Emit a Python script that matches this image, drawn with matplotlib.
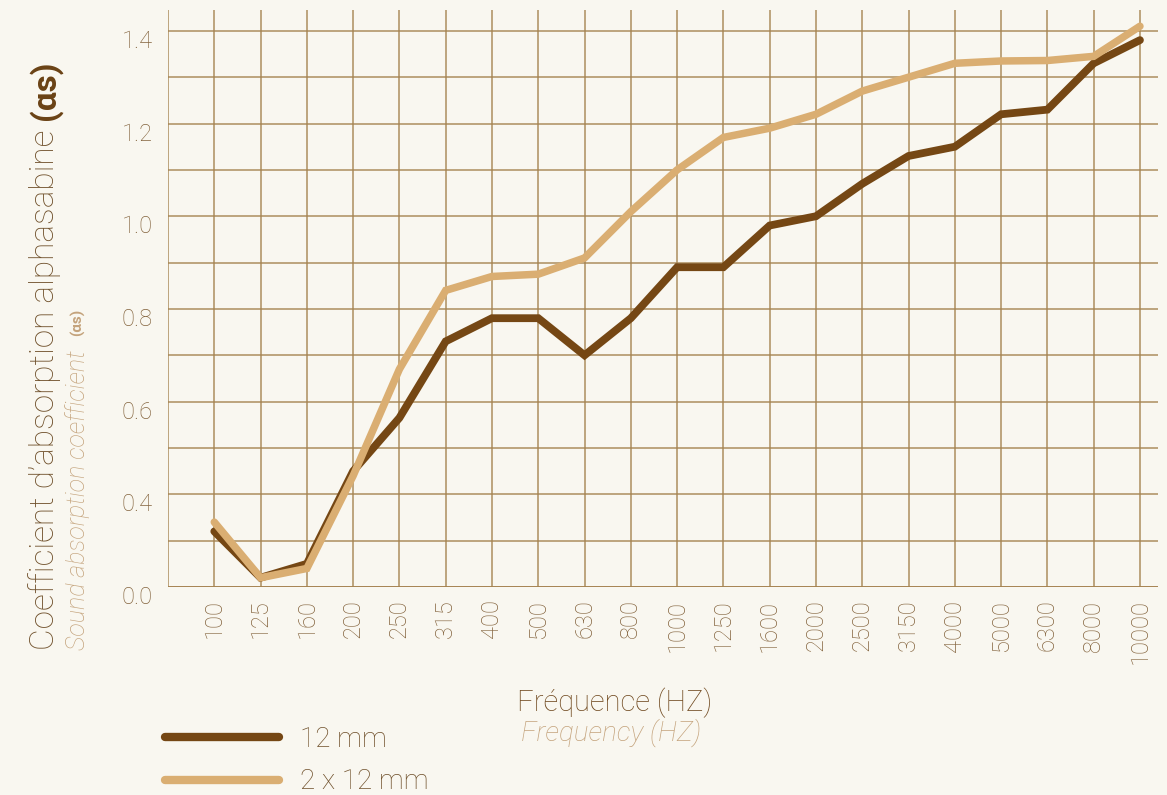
import matplotlib
matplotlib.use("Agg")
import matplotlib.pyplot as plt
from matplotlib.transforms import ScaledTranslation

# Third-octave band centre frequencies (Hz)
frequencies = ["100", "125", "160", "200", "250", "315", "400", "500", "630", "800",
               "1000", "1250", "1600", "2000", "2500", "3150", "4000", "5000",
               "6300", "8000", "10000"]

# Sound absorption coefficient per band
alpha_12mm = [0.32, 0.22, 0.25, 0.45, 0.565, 0.73, 0.78, 0.78, 0.70, 0.78,
              0.89, 0.89, 0.98, 1.00, 1.07, 1.13, 1.15, 1.22, 1.23, 1.33, 1.38]
alpha_2x12mm = [0.34, 0.22, 0.24, 0.44, 0.67, 0.84, 0.87, 0.875, 0.91, 1.01,
                1.10, 1.17, 1.19, 1.22, 1.27, 1.30, 1.33, 1.335, 1.336, 1.345, 1.41]

series_labels = ["12 mm", "2 x 12 mm"]

# Y tick positions and the text printed next to them
y_ticks = [0.2, 0.4, 0.6, 0.8, 1.0, 1.2, 1.4]
y_tick_labels = ["0.0", "0.4", "0.6", "0.8", "1.0", "1.2", "1.4"]
y_minor_ticks = [0.3, 0.5, 0.7, 0.9, 1.1, 1.3]

BG = "#F9F7F0"
DARK = "#754714"
LIGHT = "#DAAE72"
GRID = "#A5824F"
TICK_TXT = "#84643E"
TITLE_TXT = "#70512C"
SUB_TXT = "#C4A37C"

plt.rcParams["font.family"] = ["Roboto", "DejaVu Sans"]

fig = plt.figure(figsize=(11.67, 7.95), dpi=100, facecolor=BG)
ax = fig.add_axes([168 / 1167, 1 - 587 / 795, (1158 - 168) / 1167, (587 - 10) / 795])
ax.set_facecolor(BG)

x = list(range(len(frequencies)))
l1, = ax.plot(x, alpha_12mm, color=DARK, lw=5.6, solid_capstyle="round",
              solid_joinstyle="miter", zorder=3, label=series_labels[0])
l2, = ax.plot(x, alpha_2x12mm, color=LIGHT, lw=5.4, solid_capstyle="round",
              solid_joinstyle="miter", zorder=4, label=series_labels[1])

ax.set_xlim(-1, 20.39)
ax.set_ylim(0.2, 1.445)

for s in ax.spines.values():
    s.set_visible(False)

ax.set_xticks(x)
ax.set_xticklabels(frequencies, rotation=90, fontsize=17, color=TICK_TXT,
                   fontweight="light")
ax.set_yticks(y_ticks)
ax.set_yticklabels(y_tick_labels, fontsize=17, color=TICK_TXT, fontweight="light")
ax.set_yticks(y_minor_ticks, minor=True)
ax.tick_params(axis="both", which="both", length=0)
ax.tick_params(axis="x", pad=9)
ax.tick_params(axis="y", pad=11)

ax.grid(True, which="both", color=GRID, lw=1.1, alpha=0.9, zorder=0)
ax.axvline(-1, color=GRID, lw=1.1, alpha=0.9, zorder=1)
ax.axhline(0.2, color=GRID, lw=1.3, alpha=0.95, zorder=1)

# y tick labels sit slightly below their gridlines
shift = ScaledTranslation(0, -8 / 100, fig.dpi_scale_trans)
for lab in ax.get_yticklabels():
    lab.set_transform(lab.get_transform() + shift)

# Axis titles
t_main = fig.text(45 / 1167, 1 - 650 / 795, "Coefficient d\u2019absorption alphasabine ",
                  rotation=90, rotation_mode="anchor", ha="left", va="center",
                  fontsize=24, color=TITLE_TXT, fontweight="light")
fig.canvas.draw()
bb = t_main.get_window_extent()
fig.text(45 / 1167, (bb.y1 + 2) / 795, "(\u03b1s)", rotation=90, rotation_mode="anchor",
         ha="left", va="center", fontsize=24, color="#6A4215", fontweight="bold")

t_sub = fig.text(78 / 1167, 1 - 650 / 795, "Sound absorption coefficient  ",
                 rotation=90, rotation_mode="anchor", ha="left", va="center",
                 fontsize=18, color=SUB_TXT, style="italic", fontweight="light")
fig.canvas.draw()
bb2 = t_sub.get_window_extent()
fig.text(78 / 1167, (bb2.y1 + 2) / 795, "(\u03b1s)", rotation=90, rotation_mode="anchor",
         ha="left", va="center", fontsize=11, color=SUB_TXT, fontweight="bold")

fig.text(615 / 1167, 1 - 703 / 795, "Fréquence (HZ)", ha="center", va="center",
         fontsize=21, color="#70491F", fontweight="light")
fig.text(611 / 1167, 1 - 733 / 795, "Frequency (HZ)", ha="center", va="center",
         fontsize=20, color=SUB_TXT, style="italic", fontweight="light")

leg = fig.legend(handles=[l1, l2], loc="upper left",
                 bbox_to_anchor=(165 / 1167, 1 - 726 / 795),
                 frameon=False, fontsize=20, handlelength=4.1, handletextpad=0.75,
                 labelspacing=0.55, borderpad=0, borderaxespad=0)
for txt in leg.get_texts():
    txt.set_color(TITLE_TXT)
    txt.set_fontweight("light")
for h in leg.legend_handles:
    h.set_linewidth(6)

fig.savefig("out.png", dpi=100, facecolor=BG)
